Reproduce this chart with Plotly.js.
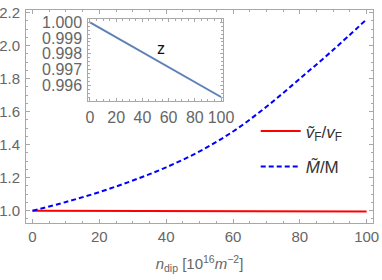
<!DOCTYPE html>
<html>
<head>
<meta charset="utf-8">
<script src="https://cdn.plot.ly/plotly-3.0.1.min.js"></script>
<style>html,body{margin:0;padding:0;background:#fff;}#chart{width:382px;height:280px;}</style>
</head>
<body>
<div id="chart"></div>
<script>
// Data
var nDip = [0, 10, 20, 30, 40, 50, 60, 70, 80, 90, 100];
var massRatio = [1.000, 1.053, 1.113, 1.183, 1.263, 1.360, 1.480, 1.630, 1.800, 1.975, 2.160];
var velRatio = [1.000, 0.9996, 0.9992, 0.9988, 0.9984, 0.998, 0.9976, 0.9972, 0.9968, 0.9964, 0.996];
var zVals = [1.0000, 0.99953, 0.99905, 0.99858, 0.99810, 0.99763, 0.99715, 0.99668, 0.99620, 0.99573, 0.99525];
var mainXTicks = [0, 20, 40, 60, 80, 100];
var mainYTicks = [1.0, 1.2, 1.4, 1.6, 1.8, 2.0, 2.2];
var insetYTicks = [0.996, 0.997, 0.998, 0.999, 1.000];
var insetXTicks = [0, 20, 40, 60, 80, 100];

var FONT = 'Liberation Sans, Arial, sans-serif';
var GRAY = '#666666';
var FRAME = '#a8a8a8';

var traces = [
  {x: nDip, y: velRatio, mode: 'lines', name: '<i>ṽ</i><sub>F</sub>/<i>v</i><sub>F</sub>',
   line: {color: '#ff0000', width: 2}, xaxis: 'x', yaxis: 'y', legend: 'legend'},
  {x: nDip, y: massRatio, mode: 'lines', name: '<i>M̃</i>/M',
   line: {color: '#0000ff', width: 2, dash: '5px,3px', shape: 'spline', smoothing: 1}, xaxis: 'x', yaxis: 'y', legend: 'legend2'},
  {x: nDip, y: zVals, mode: 'lines', showlegend: false,
   line: {color: '#5e81b5', width: 2}, xaxis: 'x2', yaxis: 'y2'}
];

var axisCommon = {
  showgrid: false, zeroline: false, showline: true, linecolor: FRAME, linewidth: 1,
  mirror: 'ticks', ticks: 'inside', tickcolor: FRAME, ticklen: 4, tickwidth: 1,
  tickfont: {family: FONT, size: 15, color: GRAY}
};

var layout = {
  width: 382, height: 280,
  margin: {l: 26, r: 9, t: 10, b: 56.7},
  paper_bgcolor: '#fff', plot_bgcolor: '#fff',
  font: {family: FONT, color: GRAY},
  xaxis: Object.assign({}, axisCommon, {
    range: [-1.95, 101.9], tickvals: mainXTicks, ticktext: mainXTicks.map(String),
    minor: {dtick: 5, ticklen: 2, tickcolor: FRAME, ticks: 'inside'},
    title: {text: '<i>n</i><sub>dip</sub> [10<sup>16</sup><i>m</i><sup>−2</sup>]', font: {family: FONT, size: 15, color: GRAY}, standoff: 14}
  }),
  yaxis: Object.assign({}, axisCommon, {
    range: [0.9256, 2.2163], tickvals: mainYTicks, ticktext: mainYTicks.map(function(v){return v.toFixed(1);}),
    minor: {dtick: 0.05, ticklen: 2, tickcolor: FRAME, ticks: 'inside'},
    ticklabelstandoff: 2
  }),
  xaxis2: Object.assign({}, axisCommon, {
    domain: [0.1795, 0.5669], anchor: 'y2',
    range: [-1.3, 101.3], tickvals: insetXTicks, ticktext: insetXTicks.map(String),
    tickfont: {family: FONT, size: 16, color: GRAY},
    minor: {dtick: 5, ticklen: 2, tickcolor: FRAME, ticks: 'inside'}, ticklen: 3,
    ticklabelstandoff: 2
  }),
  yaxis2: Object.assign({}, axisCommon, {
    domain: [0.572, 0.9592], anchor: 'x2',
    range: [0.994985, 1.000229], tickvals: insetYTicks, ticktext: insetYTicks.map(function(v){return v.toFixed(3);}),
    tickfont: {family: FONT, size: 16, color: GRAY},
    minor: {dtick: 0.00025, ticklen: 2, tickcolor: FRAME, ticks: 'inside'}, ticklen: 3,
    ticklabelstandoff: 2
  }),
  legend: {x: 0.662, y: 0.43, xanchor: 'left', yanchor: 'middle', bgcolor: 'rgba(0,0,0,0)',
           font: {family: FONT, size: 17, color: '#333'}, itemwidth: 40},
  legend2: {x: 0.662, y: 0.263, xanchor: 'left', yanchor: 'middle', bgcolor: 'rgba(0,0,0,0)',
           font: {family: FONT, size: 17, color: '#333'}, itemwidth: 40},
  annotations: [
    {text: 'z', xref: 'x2', yref: 'y2', x: 54, y: 0.99835, showarrow: false,
     font: {family: FONT, size: 16, color: '#111'}}
  ]
};

Plotly.newPlot('chart', traces, layout, {displayModeBar: false, staticPlot: true});
</script>
</body>
</html>
